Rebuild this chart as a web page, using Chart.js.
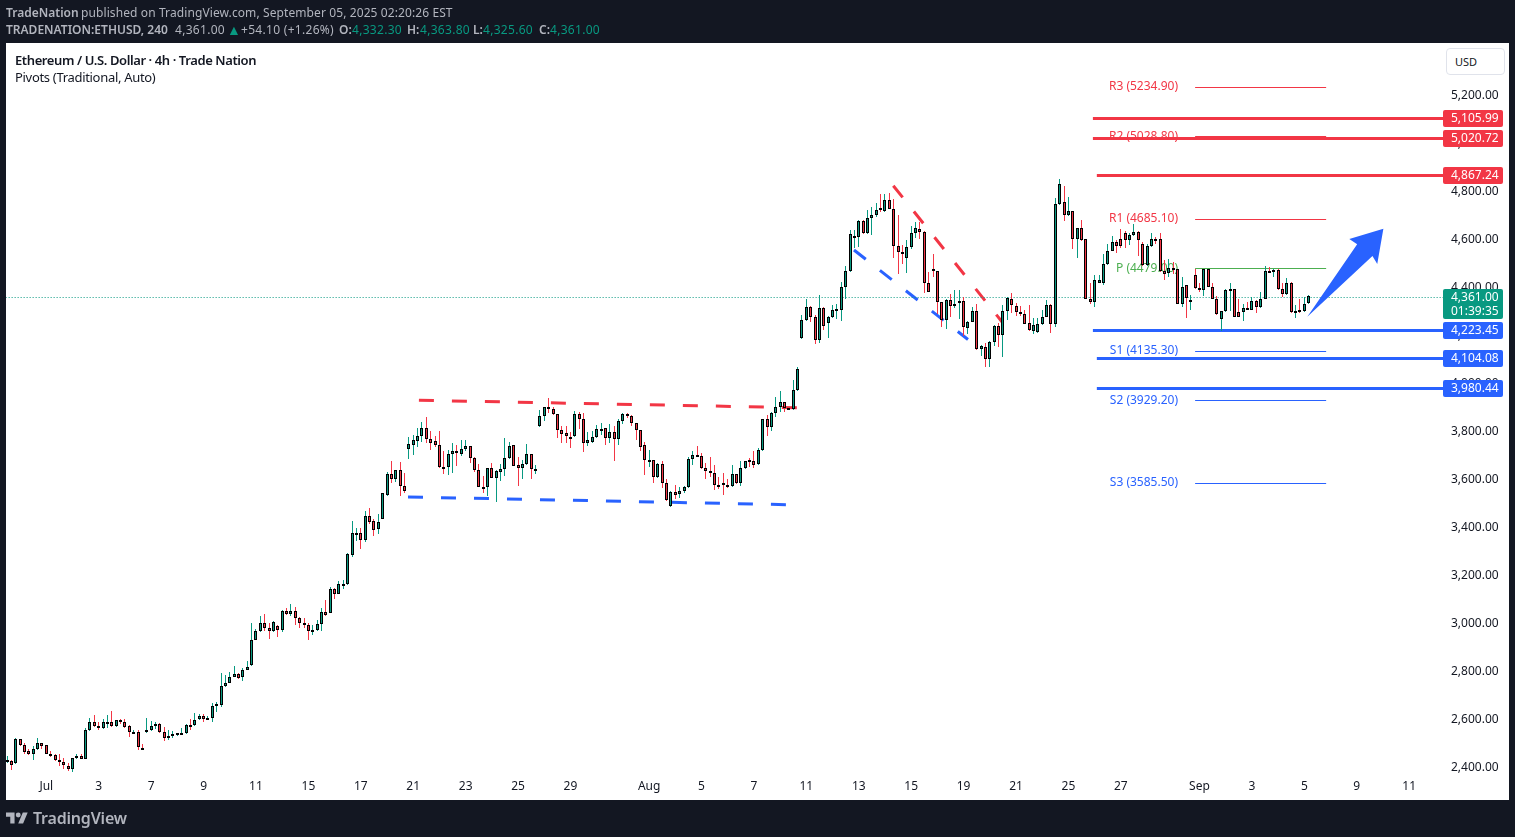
<!DOCTYPE html>
<html>
<head>
<meta charset="utf-8">
<title>ETHUSD</title>
<script src="https://cdn.jsdelivr.net/npm/chart.js@4/dist/chart.umd.min.js"></script>
<style>
html, body { margin: 0; padding: 0; width: 1515px; height: 837px; overflow: hidden; background: #131722; }
body { position: relative; font-family: "Noto Sans", sans-serif; }
#panel { position: absolute; left: 6px; top: 43px; width: 1503px; height: 757px; background: #fff; }
#myChart { position: absolute; left: 0; top: 0; }
.t { position: absolute; white-space: nowrap; font-size: 12px; line-height: 16px; color: #b2b5be; }
.n { letter-spacing: 0.3px; }
.g { color: #089981; }
.b { font-weight: 600; }
#usd { position: absolute; left: 1446px; top: 48px; width: 57px; height: 25px; border: 1px solid #e0e3eb; border-radius: 4px; background: #fff; font-size: 11px; line-height: 25px; color: #131722; text-indent: 8px; }
#logo { position: absolute; left: 6px; top: 812px; }
#brand { position: absolute; left: 33px; top: 806px; font-size: 16px; letter-spacing: -0.2px; line-height: 24px; font-weight: 600; color: #b2b5be; }
</style>
</head>
<body>
<div id="panel"></div>
<canvas id="myChart" width="1515" height="837"></canvas>
<div class="t b" style="left:6px;top:5px">TradeNation</div>
<div class="t" style="left:81px;top:5px;letter-spacing:0.1px">published on TradingView.com, September 05, 2025 02:20:26 EST</div>
<div class="t b" style="left:6px;top:22px">TRADENATION:ETHUSD, 240</div>
<div class="t n" style="left:175px;top:22px">4,361.00</div>
<div class="t g" style="left:227px;top:22px;font-size:14px">&#9650;</div>
<div class="t n" style="left:241px;top:22px">+54.10 (+1.26%)</div>
<div class="t b" style="left:339px;top:22px">O:</div>
<div class="t n g" style="left:352px;top:22px">4,332.30</div>
<div class="t b" style="left:407px;top:22px">H:</div>
<div class="t n g" style="left:420px;top:22px">4,363.80</div>
<div class="t b" style="left:473px;top:22px">L:</div>
<div class="t n g" style="left:483px;top:22px">4,325.60</div>
<div class="t b" style="left:539px;top:22px">C:</div>
<div class="t n g" style="left:550px;top:22px">4,361.00</div>
<div class="t b" style="left:15px;top:52px;font-size:13px;letter-spacing:-0.4px;color:#131722">Ethereum / U.S. Dollar · 4h · Trade Nation</div>
<div class="t" style="left:15px;top:69px;font-size:13px;letter-spacing:-0.31px;color:#131722">Pivots (Traditional, Auto)</div>
<div id="usd">USD</div>
<svg id="logo" width="22" height="12" viewBox="0 4 36 18"><path fill="#b2b5be" d="M14 22H7V11H0V4h14v18zM28 22h-8l7.5-18h8L28 22z"/><circle fill="#b2b5be" cx="20" cy="8" r="4"/></svg>
<div id="brand">TradingView</div>
<script>
var opens = [
2428,2425,2413,2513,2488,2463,2453,2471,2496,2488,
2454,2446,2429,2417,2404,2390,2434,2442,2432,2553,
2584,2567,2559,2584,2584,2567,2595,2584,2567,2542,
2542,2479,2542,2554,2567,2579,2542,2517,2529,2538,
2538,2538,2575,2571,2596,2609,2596,2604,2654,2657,
2735,2750,2774,2784,2771,2803,2821,2929,2963,3000,
2979,2963,2984,2970,3046,3034,3046,3017,3000,2988,
2963,2967,2992,3042,3040,3138,3120,3158,3159,3282,
3371,3371,3345,3442,3421,3391,3432,3532,3618,3600,
3634,3570,3725,3741,3758,3776,3809,3766,3756,3738,
3650,3647,3701,3713,3701,3722,3734,3687,3637,3566,
3566,3643,3604,3629,3638,3684,3738,3655,3643,3659,
3701,3638,3820,3859,3897,3888,3868,3801,3788,3775,
3776,3868,3847,3747,3754,3772,3806,3809,3768,3793,
3763,3838,3868,3859,3830,3801,3738,3676,3676,3605,
3659,3580,3484,3543,3534,3547,3563,3680,3697,3693,
3643,3630,3622,3572,3580,3572,3568,3618,3580,3643,
3676,3672,3659,3718,3847,3813,3872,3897,3918,3893,
3888,3968,4184,4259,4313,4275,4179,4309,4246,4271,
4304,4304,4400,4463,4603,4607,4671,4621,4684,4699,
4729,4713,4759,4725,4567,4545,4517,4563,4625,4638,
4629,4413,4471,4463,4334,4259,4342,4317,4338,4338,
4229,4254,4300,4138,4150,4100,4167,4234,4200,4296,
4346,4317,4292,4284,4246,4214,4209,4242,4275,4325,
4242,4742,4754,4696,4713,4596,4642,4596,4346,4334,
4416,4416,4492,4550,4584,4600,4625,4592,4613,4629,
4577,4488,4567,4600,4596,4463,4457,4479,4471,4329,
4406,4339,4450,4392,4384,4471,4400,4350,4263,4296,
4384,4388,4292,4292,4309,4304,4338,4313,4350,4463,
4463,4468,4388,4367,4413,4292,4304,4296,4332.3];
var highs = [
2445,2429,2518,2515,2496,2472,2485,2518,2497,2491,
2463,2454,2453,2434,2413,2434,2452,2454,2560,2602,
2614,2586,2600,2613,2631,2595,2597,2597,2572,2554,
2552,2493,2602,2588,2585,2582,2564,2552,2549,2539,
2560,2579,2596,2621,2617,2618,2610,2663,2667,2788,
2781,2792,2818,2788,2810,2839,2996,2975,3027,3035,
3000,3006,2988,3052,3059,3077,3063,3024,3017,2996,
2988,3010,3059,3093,3149,3143,3171,3177,3289,3422,
3392,3392,3466,3477,3432,3452,3540,3627,3673,3636,
3669,3622,3773,3783,3811,3834,3855,3798,3777,3798,
3715,3719,3748,3741,3761,3761,3736,3691,3661,3611,
3644,3665,3636,3661,3769,3752,3740,3691,3676,3744,
3703,3656,3886,3900,3934,3897,3870,3819,3819,3795,
3880,3876,3872,3794,3800,3822,3831,3811,3826,3819,
3847,3872,3875,3865,3832,3803,3751,3719,3678,3663,
3672,3597,3548,3572,3563,3569,3691,3713,3736,3705,
3663,3688,3655,3606,3622,3597,3655,3620,3672,3672,
3684,3715,3726,3847,3865,3876,3938,3965,3920,3897,
4011,4065,4281,4346,4318,4281,4363,4313,4279,4321,
4329,4420,4485,4635,4635,4679,4679,4718,4732,4750,
4785,4785,4788,4763,4700,4571,4593,4652,4667,4667,
4631,4461,4535,4465,4336,4350,4368,4385,4385,4357,
4256,4314,4329,4157,4163,4171,4238,4246,4325,4357,
4375,4331,4318,4304,4322,4267,4267,4302,4343,4327,
4767,4850,4818,4771,4715,4643,4679,4598,4413,4447,
4447,4534,4577,4610,4593,4638,4631,4621,4660,4631,
4584,4579,4625,4607,4621,4510,4513,4503,4473,4440,
4408,4364,4475,4413,4475,4475,4414,4360,4297,4388,
4413,4390,4350,4327,4336,4357,4343,4378,4485,4482,
4475,4471,4413,4434,4417,4322,4346,4357,4363.8];
var lows = [
2413,2385,2410,2485,2453,2449,2427,2468,2474,2452,
2440,2425,2403,2389,2382,2377,2432,2431,2431,2547,
2563,2552,2557,2559,2563,2566,2579,2561,2524,2540,
2468,2468,2540,2549,2557,2540,2507,2510,2520,2527,
2535,2536,2554,2570,2593,2585,2593,2585,2628,2649,
2732,2749,2771,2763,2756,2802,2818,2927,2960,2966,
2931,2961,2941,2959,3031,3027,2989,2978,2979,2927,
2950,2963,2966,3028,3039,3097,3118,3139,3157,3272,
3339,3306,3335,3410,3360,3368,3431,3527,3583,3586,
3527,3538,3681,3698,3730,3754,3750,3719,3733,3645,
3619,3615,3623,3654,3695,3716,3665,3629,3565,3538,
3529,3602,3504,3591,3612,3681,3652,3569,3600,3658,
3598,3619,3816,3841,3875,3865,3769,3750,3747,3729,
3774,3806,3711,3736,3748,3769,3781,3740,3748,3673,
3740,3827,3851,3819,3761,3716,3615,3650,3583,3604,
3561,3508,3483,3513,3519,3541,3559,3656,3691,3640,
3598,3608,3552,3555,3533,3561,3566,3576,3569,3638,
3648,3644,3658,3713,3777,3800,3858,3876,3879,3886,
3887,3966,4182,4257,4252,4161,4165,4218,4186,4270,
4264,4257,4349,4461,4559,4564,4618,4618,4614,4690,
4709,4711,4721,4520,4452,4493,4457,4557,4604,4596,
4374,4377,4441,4285,4232,4224,4272,4310,4264,4195,
4202,4253,4135,4110,4065,4065,4153,4149,4107,4260,
4290,4278,4279,4242,4216,4204,4206,4240,4272,4207,
4232,4741,4674,4693,4557,4520,4590,4346,4329,4315,
4414,4407,4489,4548,4538,4561,4559,4575,4610,4528,
4486,4486,4563,4577,4460,4429,4441,4454,4328,4315,
4270,4302,4390,4377,4360,4396,4346,4281,4213,4295,
4297,4274,4274,4257,4304,4301,4290,4309,4349,4457,
4441,4385,4357,4364,4288,4267,4290,4295,4325.6];
var closes = [
2429,2407,2513,2488,2461,2453,2471,2496,2486,2453,
2445,2428,2417,2407,2390,2434,2442,2432,2554,2584,
2567,2563,2584,2585,2567,2592,2584,2563,2542,2543,
2482,2474,2554,2567,2579,2542,2517,2529,2534,2539,
2539,2575,2571,2592,2609,2596,2604,2654,2659,2734,
2750,2775,2784,2770,2804,2813,2929,2963,3000,2978,
2963,3003,2970,3046,3034,3046,3017,3000,2988,2963,
2967,2992,3042,3032,3138,3120,3160,3159,3284,3375,
3372,3345,3442,3420,3386,3417,3538,3617,3600,3634,
3570,3550,3743,3759,3776,3809,3766,3750,3738,3650,
3649,3701,3713,3705,3722,3734,3687,3637,3566,3565,
3643,3604,3630,3638,3684,3734,3654,3643,3659,3701,
3638,3639,3859,3897,3888,3868,3801,3784,3776,3774,
3868,3847,3747,3759,3772,3805,3808,3768,3793,3763,
3838,3868,3859,3830,3801,3730,3676,3677,3605,3659,
3580,3509,3543,3533,3547,3563,3680,3697,3693,3643,
3630,3622,3572,3571,3572,3571,3618,3580,3643,3672,
3672,3658,3718,3847,3813,3872,3897,3918,3893,3888,
3968,4055,4259,4313,4275,4179,4309,4236,4271,4304,
4305,4400,4463,4617,4610,4671,4621,4684,4696,4717,
4717,4759,4725,4567,4545,4534,4563,4625,4642,4629,
4413,4379,4463,4334,4259,4342,4317,4329,4339,4232,
4254,4300,4138,4154,4100,4167,4234,4200,4296,4353,
4321,4292,4284,4245,4217,4238,4242,4275,4325,4242,
4742,4829,4696,4713,4596,4642,4592,4350,4334,4429,
4429,4492,4550,4584,4567,4567,4592,4613,4629,4592,
4488,4567,4600,4596,4463,4454,4479,4471,4329,4400,
4353,4342,4392,4384,4471,4400,4350,4284,4296,4384,
4388,4275,4275,4309,4308,4338,4313,4350,4463,4461,
4468,4388,4367,4413,4292,4300,4296,4329,4361];

var xTickIndex = [9,21,33,45,57,69,81,93,105,117,129,147,159,171,183,195,207,219,231,243,255,273,285,297,309,321];
var xTickLabels = ['Jul','3','7','9','11','15','17','21','23','25','29','Aug','5','7','11','13','15','19','21','25','27','Sep','3','5','9','11'];
var yTicks = [2400,2600,2800,3000,3200,3400,3600,3800,4000,4200,4400,4600,4800,5000,5200];

var pivotNames = ['R3','R2','R1','P','S1','S2','S3'];
var pivotValues = [5234.90,5028.80,4685.10,4479.00,4135.30,3929.20,3585.50];
var pivotStart = 272, pivotEnd = 302;

var redLevels = [5105.99,5020.72,4867.24];
var redLevelStart = [248.6,248.6,249.5];
var blueLevels = [4223.45,4104.08,3980.44];
var blueLevelStart = [248.6,249.5,249.5];
var levelEnd = 328.75;

var lastPrice = 4361;
var redTrendA = [[94.3,3929],[180.9,3898]];
var blueTrendA = [[91.8,3526],[178.6,3494]];
var redTrendB = [[202.9,4823],[228,4251]];
var blueTrendB = [[193.9,4555],[220,4182]];
// index / price outline of the big arrow
var arrowIndex = [297.69,309.1,307.3,315.1,313.7,312.6];
var arrowPrice = [4277,4579,4601,4644,4497,4530];

var GREEN = '#089981', RED = '#F23645', BLUE = '#2962FF';
var idx = opens.map(function (v, i) { return i; });

function upColor(i) { return closes[i] >= opens[i] ? GREEN : RED; }
function line(points, color, width, dash, flat) {
    return {
        type: 'line', order: 5, flat: !!flat, data: points.map(function (p) { return {x: p[0], y: p[1]}; }),
        borderColor: color, borderWidth: width, borderDash: dash || [], pointRadius: 0, tension: 0, fill: false
    };
}

var datasets = [];
pivotNames.forEach(function (n, i) {
    var c = n === 'P' ? '#4CAF50' : (n[0] === 'R' ? RED : BLUE);
    datasets.push(line([[pivotStart, pivotValues[i]], [pivotEnd, pivotValues[i]]], c, 1, null, true));
});
redLevels.forEach(function (v, i) { datasets.push(line([[redLevelStart[i], v], [levelEnd, v]], RED, 3, null, true)); });
blueLevels.forEach(function (v, i) { datasets.push(line([[blueLevelStart[i], v], [levelEnd, v]], BLUE, 3, null, true)); });
datasets.push(line([[-1, lastPrice], [levelEnd, lastPrice]], GREEN, 1, [1, 2], true));
datasets.push(line(redTrendA, RED, 3, [15, 18]));
datasets.push(line(blueTrendA, BLUE, 3, [15, 18]));
datasets.push(line(redTrendB, RED, 3, [15, 18]));
datasets.push(line(blueTrendB, BLUE, 3, [15, 18]));

datasets.push({
    label: 'wicks', order: 2, grouped: false, barThickness: 1, borderWidth: 0, inflateAmount: 0,
    data: idx.map(function (i) { return {x: i, y: [lows[i], highs[i]]}; }),
    backgroundColor: idx.map(upColor)
});
datasets.push({
    label: 'bodies', order: 1, grouped: false, barThickness: 3, borderWidth: 1, borderColor: '#000', borderSkipped: false, inflateAmount: 0,
    data: idx.map(function (i) { return {x: i, y: [Math.min(opens[i], closes[i]), Math.max(opens[i], closes[i])]}; }),
    backgroundColor: idx.map(upColor)
});

// snap candles and flat lines to whole pixels so they stay crisp like the original
var snapPlugin = {
    id: 'snap',
    afterDatasetsUpdate: function (chart) {
        chart.data.datasets.forEach(function (ds, n) {
            var els = chart.getDatasetMeta(n).data;
            if (ds.type === 'line') {
                if (ds.flat) els.forEach(function (el) { el.y = Math.round(el.y) + 0.5; });
                return;
            }
            els.forEach(function (el) {
                el.x = Math.floor(el.x) + 0.5;
                var a = Math.round(Math.min(el.y, el.base) - 0.7), b = Math.round(Math.max(el.y, el.base) - 0.7);
                if (b - a < 2) b = a + 2;
                el.y = a; el.base = b;
            });
        });
    }
};

function fmt(v) { return v.toLocaleString('en-US', {minimumFractionDigits: 2, maximumFractionDigits: 2}); }

function tag(ctx, y, h, color, lines) {
    ctx.fillStyle = color;
    ctx.beginPath();
    ctx.roundRect(1443, y, 60, h, 2);
    ctx.fill();
    ctx.font = '12px "Noto Sans"';
    ctx.textAlign = 'left';
    ctx.textBaseline = 'middle';
    ctx.fillStyle = '#fff';
    lines.forEach(function (s, i) { ctx.fillText(s, 1451, y + 8.5 + i * 14); });
}

var overlayPlugin = {
    id: 'overlay',
    beforeDatasetsDraw: function (chart) {
        var ctx = chart.ctx, ys = chart.scales.y;
        ctx.save();
        ctx.font = '12px "Noto Sans"';
        ctx.textAlign = 'right';
        ctx.textBaseline = 'middle';
        pivotNames.forEach(function (n, i) {
            ctx.fillStyle = n === 'P' ? '#4CAF50' : (n[0] === 'R' ? RED : BLUE);
            ctx.fillText(n + ' (' + pivotValues[i].toFixed(2) + ')', 1178, ys.getPixelForValue(pivotValues[i]));
        });
        ctx.restore();
    },
    afterDraw: function (chart) {
        var ctx = chart.ctx, xs = chart.scales.x, ys = chart.scales.y;
        ctx.save();
        ctx.fillStyle = BLUE;
        ctx.beginPath();
        arrowIndex.forEach(function (v, i) {
            var px = xs.getPixelForValue(v), py = ys.getPixelForValue(arrowPrice[i]);
            if (i === 0) ctx.moveTo(px, py); else ctx.lineTo(px, py);
        });
        ctx.closePath();
        ctx.fill();
        redLevels.forEach(function (v) { tag(ctx, Math.round(ys.getPixelForValue(v)) - 8, 17, RED, [fmt(v)]); });
        blueLevels.forEach(function (v) { tag(ctx, Math.round(ys.getPixelForValue(v)) - 8, 17, BLUE, [fmt(v)]); });
        tag(ctx, Math.round(ys.getPixelForValue(lastPrice)) - 8, 30, GREEN, [fmt(lastPrice), '01:39:35']);
        ctx.restore();
    }
};

var ctx = document.getElementById('myChart').getContext('2d');
var myChart = new Chart(ctx, {
    type: 'bar',
    data: {datasets: datasets},
    plugins: [snapPlugin, overlayPlugin],
    options: {
        responsive: false,
        animation: false,
        devicePixelRatio: 1,
        layout: {padding: {left: 6, right: 6, top: 43, bottom: 37}},
        plugins: {legend: {display: false}, tooltip: {enabled: false}},
        scales: {
            x: {
                type: 'linear', offset: false, min: -0.23, max: 328.75,
                grid: {display: false, drawTicks: false}, border: {display: false},
                afterBuildTicks: function (s) { s.ticks = xTickIndex.map(function (v) { return {value: v}; }); },
                afterFit: function (s) { s.height = 27; s.paddingLeft = 0; s.paddingRight = 0; },
                ticks: {
                    autoSkip: false, maxRotation: 0, padding: 6, color: '#131722', font: {family: 'Noto Sans', size: 12},
                    callback: function (v) { return xTickLabels[xTickIndex.indexOf(v)]; }
                }
            },
            y: {
                type: 'linear', position: 'right', min: 2375.9, max: 5417.6,
                grid: {display: false, drawTicks: false}, border: {display: false},
                afterBuildTicks: function (s) { s.ticks = yTicks.map(function (v) { return {value: v}; }); },
                afterFit: function (s) { s.width = 66; s.paddingTop = 0; s.paddingBottom = 0; },
                ticks: {padding: 8, color: '#131722', font: {family: 'Noto Sans', size: 12}, callback: function (v) { return fmt(v); }}
            }
        }
    }
});
</script>
</body>
</html>
